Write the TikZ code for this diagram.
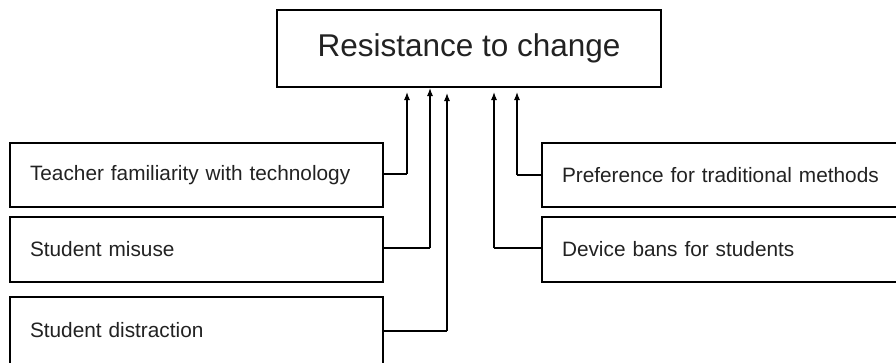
\documentclass[tikz,border=0pt]{standalone}
\usepackage{fontspec}
\setmainfont{Liberation Sans}
\usetikzlibrary{arrows.meta}
\definecolor{txt}{HTML}{222222}
\begin{document}
\begin{tikzpicture}[x=1pt,y=-1pt,
  every node/.style={inner sep=0pt, outer sep=0pt},
  box/.style={draw=black, line width=1.1pt, rectangle, text=txt, anchor=north west},
  side/.style={box, font=\fontsize{20.8}{24}\selectfont, align=left, inner xsep=20pt},
  arr/.style={draw=black, line width=1.1pt, -{Latex[length=8pt,width=6pt]}},
  lnk/.style={draw=black, line width=1.1pt}]
\useasboundingbox (0,0) rectangle (896,362);
\clip (0,0) rectangle (896,362);
\fill[white] (0,0) rectangle (896,362);
% top
\node[box, minimum width=384pt, minimum height=77pt, font=\fontsize{31.5}{36}\selectfont] (top) at (277,10) {Resistance to change};
% left boxes
\node[side, text width=333pt, minimum height=64pt] (t1) at (10,143) {Teacher familiarity with technology};
\node[side, text width=333pt, minimum height=65pt] (t2) at (10,217) {Student misuse};
\node[side, text width=333pt, minimum height=67pt] (t3) at (10,297) {Student distraction};
% right boxes
\node[side, text width=340pt, minimum height=64pt] (t4) at (542,143) {Preference for traditional methods};
\node[side, text width=340pt, minimum height=65pt] (t5) at (542,217) {Device bans for students};
% arrow end points
\coordinate (e1) at (407,92);
\coordinate (e2) at (430,88);
\coordinate (e3) at (447,93);
\coordinate (e4) at (494,92);
\coordinate (e5) at (517,92);
\coordinate (k1) at (407,174);
\coordinate (k2) at (430,248);
\coordinate (k3) at (447,331);
\coordinate (k4) at (517,175);
\coordinate (k5) at (494,248);
\draw[lnk] (t1.east |- k1) -- (k1);
\draw[arr] (k1) -- (e1);
\draw[lnk] (t2.east |- k2) -- (k2);
\draw[arr] (k2) -- (e2);
\draw[lnk] (t3.east |- k3) -- (k3);
\draw[arr] (k3) -- (e3);
\draw[lnk] (t4.west |- k4) -- (k4);
\draw[arr] (k4) -- (e5);
\draw[lnk] (t5.west |- k5) -- (k5);
\draw[arr] (k5) -- (e4);
\end{tikzpicture}
\end{document}
